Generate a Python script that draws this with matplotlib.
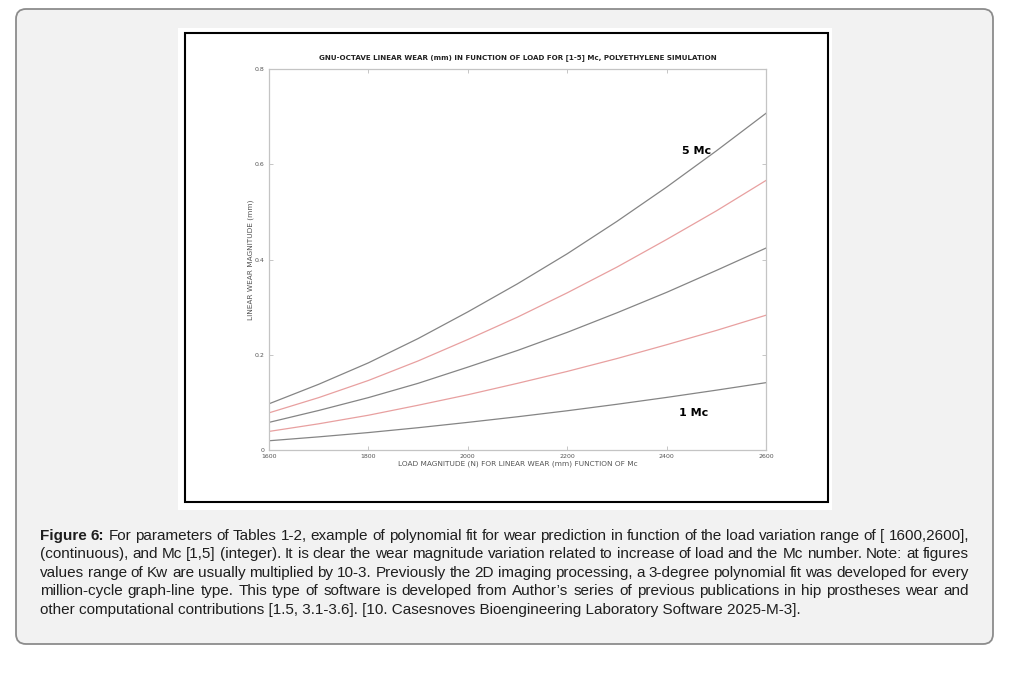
import matplotlib
matplotlib.use('Agg')
import matplotlib.pyplot as plt
from matplotlib.patches import FancyBboxPatch, Rectangle

# load (N) and linear wear (mm), one list per million cycles
load = [1600, 1700, 1800, 1900, 2000, 2100, 2200, 2300, 2400, 2500, 2600]
wear_1mc = [0.0194, 0.0276, 0.0366, 0.0468, 0.0580, 0.0698, 0.0824, 0.0960, 0.1104, 0.1256, 0.1414]
wear_2mc = [0.039, 0.055, 0.073, 0.094, 0.116, 0.140, 0.165, 0.192, 0.221, 0.251, 0.283]
wear_3mc = [0.058, 0.083, 0.110, 0.140, 0.174, 0.209, 0.247, 0.288, 0.331, 0.377, 0.424]
wear_4mc = [0.078, 0.110, 0.146, 0.187, 0.232, 0.279, 0.330, 0.384, 0.442, 0.502, 0.566]
wear_5mc = [0.097, 0.138, 0.183, 0.234, 0.290, 0.349, 0.412, 0.480, 0.552, 0.628, 0.707]
series = [wear_1mc, wear_2mc, wear_3mc, wear_4mc, wear_5mc]
series_colors = ['#858585', '#e8a0a0', '#858585', '#e8a0a0', '#858585']

xticks = [1600, 1800, 2000, 2200, 2400, 2600]
yticks = [0, 0.2, 0.4, 0.6, 0.8]
ytick_labels = ['0', '0.2', '0.4', '0.6', '0.8']

title = 'GNU-OCTAVE LINEAR WEAR (mm) IN FUNCTION OF LOAD FOR [1-5] Mc, POLYETHYLENE SIMULATION'
xlabel = 'LOAD MAGNITUDE (N) FOR LINEAR WEAR (mm) FUNCTION OF Mc'
ylabel = 'LINEAR WEAR MAGNITUDE (mm)'

caption = [
    'Figure 6: For parameters of Tables 1-2, example of polynomial fit for wear prediction in function of the load variation range of [ 1600,2600],',
    '(continuous), and Mc [1,5] (integer). It is clear the wear magnitude variation related to increase of load and the Mc number. Note: at figures',
    'values range of Kw are usually multiplied by 10-3. Previously the 2D imaging processing, a 3-degree polynomial fit was developed for every',
    'million-cycle graph-line type. This type of software is developed from Author\u2019s series of previous publications in hip prostheses wear and',
    'other computational contributions [1.5, 3.1-3.6]. [10. Casesnoves Bioengineering Laboratory Software 2025-M-3].',
]

W, H = 1029, 681
fig = plt.figure(figsize=(W / 100, H / 100), dpi=100)
fig.patch.set_facecolor('white')

# background axes in pixel coordinates
bg = fig.add_axes([0, 0, 1, 1])
bg.set_xlim(0, W)
bg.set_ylim(H, 0)
bg.axis('off')

bg.add_patch(FancyBboxPatch((16, 9), 977, 635, boxstyle='round,pad=0,rounding_size=10',
                            facecolor='#f2f2f2', edgecolor='#8c8c8c', linewidth=1.3))
bg.add_patch(Rectangle((178, 28), 654, 482, facecolor='white', edgecolor='none'))
bg.add_patch(Rectangle((185, 33), 643, 469, facecolor='none', edgecolor='black', linewidth=1.5))


def px_box(left, top, right, bottom):
    return [left / W, 1 - bottom / H, (right - left) / W, (bottom - top) / H]


ax = fig.add_axes(px_box(269, 69, 766, 450))
for ys, c in zip(series, series_colors):
    ax.plot(load, ys, color=c, linewidth=0.9)
ax.set_xlim(1600, 2600)
ax.set_ylim(0, 0.8)
ax.set_xticks(xticks)
ax.set_xticklabels([str(t) for t in xticks])
ax.set_yticks(yticks)
ax.set_yticklabels(ytick_labels)
ax.tick_params(direction='in', length=3, width=0.6, colors='#bdbdbd',
               labelcolor='#555555', labelsize=4.5, top=True, right=True, pad=3)
for s in ax.spines.values():
    s.set_color('#c4c4c4')
    s.set_linewidth(0.9)
ax.set_title(title, fontsize=5.1, fontweight='bold', color='#222222', pad=7)
ax.set_xlabel(xlabel, fontsize=5.3, color='#555555', labelpad=1)
ax.set_ylabel(ylabel, fontsize=5.3, color='#555555', labelpad=1)
ax.text(2460, 0.627, '5 Mc', fontsize=8, fontweight='bold', color='black', ha='center', va='center')
ax.text(2455, 0.078, '1 Mc', fontsize=8, fontweight='bold', color='black', ha='center', va='center')

# caption, justified like the web page (baselines on whole pixels so words line up)
fig.canvas.draw()
renderer = fig.canvas.get_renderer()
x0, x1 = 40, 969
y_rows = [540, 558, 577, 595, 614]
fs = 11
for i, (line, yy) in enumerate(zip(caption, y_rows)):
    if i == len(caption) - 1:
        bg.text(x0, yy, line, fontsize=fs, family='Liberation Sans', color='#1e1e1e',
                va='baseline', ha='left')
        continue
    words = line.split(' ')
    items = []
    for j, w in enumerate(words):
        bold = (i == 0 and j < 2)
        t = bg.text(0, yy, w, fontsize=fs, family='Liberation Sans', color='#1e1e1e',
                    fontweight='bold' if bold else 'normal', va='baseline', ha='left')
        items.append((t, t.get_window_extent(renderer).width))
    total = sum(wd for _, wd in items)
    gap = (x1 - x0 - total) / (len(items) - 1)
    xx = x0
    for t, wd in items:
        t.set_x(xx)
        xx += wd + gap

fig.savefig('out.png', dpi=100)
